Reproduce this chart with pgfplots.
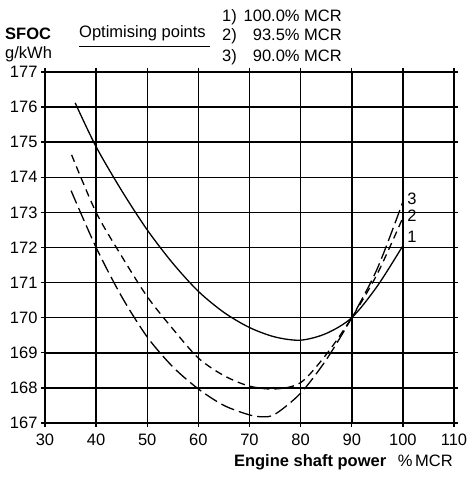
\documentclass[border=0pt]{standalone}
\usepackage{pgfplots}
\pgfplotsset{compat=1.18}
\usepackage{fontspec}
\setmainfont{Liberation Sans}
\newcommand\chartfont{\fontsize{16.5bp}{19bp}\selectfont}

\begin{document}
\begin{tikzpicture}[x=1bp,y=1bp]
\useasboundingbox (0,0) rectangle (474,482);
\begin{axis}[
  at={(45bp,59bp)}, anchor=south west,
  scale only axis, width=409bp, height=351bp,
  xmin=30, xmax=110, ymin=167, ymax=177,
  xtick={30,40,...,110}, ytick={167,168,...,177},
  grid=major,
  major grid style={black, line width=1.5bp},
  axis line style={black, line width=1.6bp},
  tick style={black, line width=1.4bp},
  tick align=outside, major tick length=4bp,
  /pgf/number format/assume math mode=true,
  /pgf/number format/1000 sep={},
  ticklabel style={font=\chartfont},
  xticklabel style={yshift=-3bp},
  yticklabel style={xshift=0bp},
  clip=false,
]
% optimised at 100.0 % MCR
\addplot[black, line width=1.3bp, smooth] coordinates {
  (35.9,176.12) (40,174.87) (45,173.62) (50,172.50) (55,171.55)
  (60,170.75) (65,170.15) (70,169.72) (75,169.45) (80,169.36)
  (85,169.55) (90,170.0) (95,170.9) (100,172.05)
};
% optimised at 93.5 % MCR
\addplot[black, line width=1.3bp, smooth, dash pattern=on 7.5bp off 5bp] coordinates {
  (35.2,174.64) (40,173.0) (45,171.75) (50,170.6) (55,169.68)
  (60,168.85) (65,168.35) (70,168.05) (75,167.97) (80,168.15)
  (85,168.95) (90,170.0) (95,171.25) (100,172.85)
};
% optimised at 90.0 % MCR
\addplot[black, line width=1.3bp, smooth, dash pattern=on 14bp off 5bp] coordinates {
  (35.1,173.62) (40,172.0) (45,170.6) (50,169.45) (55,168.6)
  (60,167.97) (65,167.5) (70,167.23) (72.5,167.18) (75,167.25)
  (80,167.85) (85,168.8) (90,170.0) (95,171.4) (100,173.3)
};
\node[anchor=west, inner sep=0, font=\chartfont] at (axis cs:100.84,173.4) {3};
\node[anchor=west, inner sep=0, font=\chartfont] at (axis cs:100.84,172.91) {2};
\node[anchor=west, inner sep=0, font=\chartfont] at (axis cs:100.84,172.31) {1};
\end{axis}

% axis titles
\begin{scope}[every node/.style={inner sep=0, font=\chartfont}]
\node[anchor=base west, font=\chartfont\bfseries] at (5,442) {SFOC};
\node[anchor=base west] at (5,423) {g/kWh};
\node[anchor=base west] at (79,444) {Optimising points};
\draw[line width=0.9bp] (79,436) -- (210,436);
\node[anchor=base west] at (222,460) {1)};
\node[anchor=base east] at (342,460) {100.0\% MCR};
\node[anchor=base west] at (222,441) {2)};
\node[anchor=base east] at (342,441) {93.5\% MCR};
\node[anchor=base west] at (222,420) {3)};
\node[anchor=base east] at (342,420) {90.0\% MCR};
\node[anchor=base east] at (453,15) {\textbf{Engine shaft power}\hspace{0.7em}\%\,MCR};
\end{scope}
\end{tikzpicture}
\end{document}
